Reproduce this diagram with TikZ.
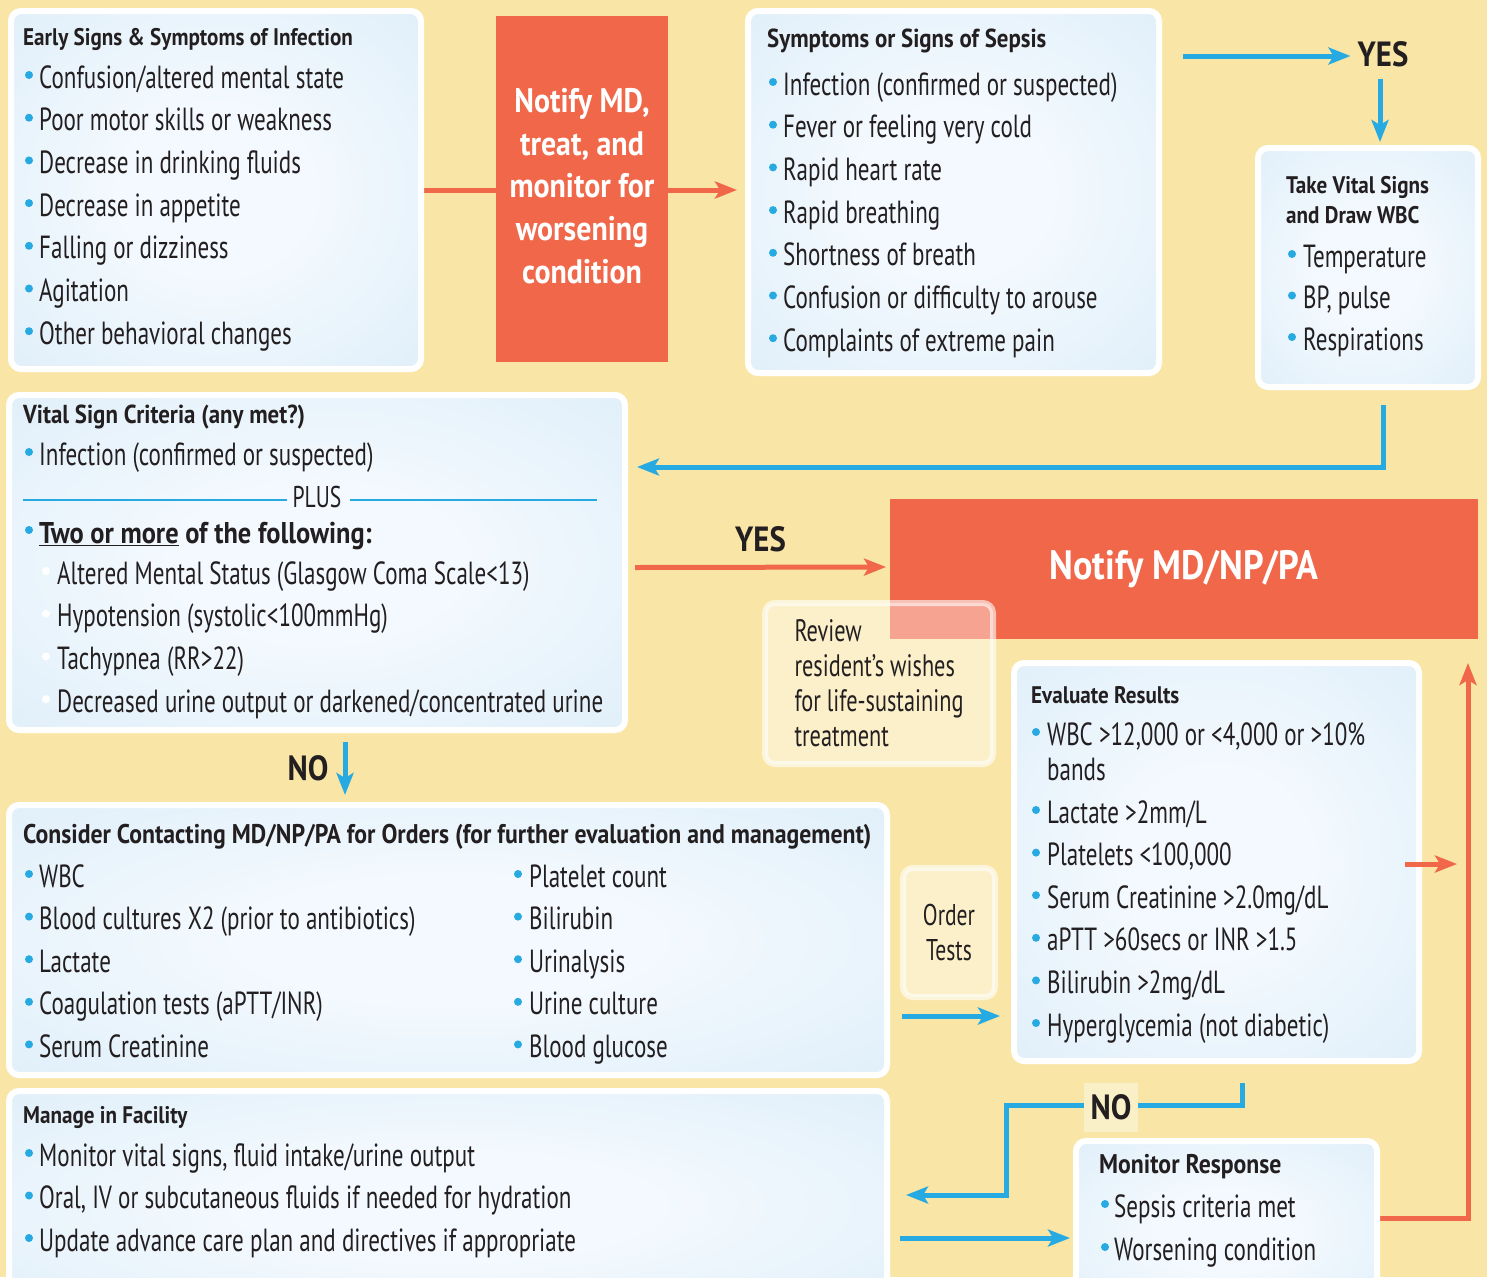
\documentclass[tikz,border=0pt]{standalone}
\usepackage{fontspec}
\setmainfont{PT Sans}[FakeStretch=0.72, BoldFeatures={FakeStretch=0.88}]
\usepackage{tikz}
\usetikzlibrary{positioning, arrows.meta, calc}

\definecolor{pagebg}{HTML}{F9E6A7}
\definecolor{alarm}{HTML}{F0674A}
\definecolor{flow}{HTML}{27AAE1}
\definecolor{ink}{HTML}{231F20}
\definecolor{boxin}{HTML}{F3F9FE}
\definecolor{boxout}{HTML}{CFE6F6}
\definecolor{notefill}{HTML}{FAF0C8}

\pgfdeclareradialshading{boxglow}{\pgfpoint{0bp}{0bp}}{color(0bp)=(boxin); color(12bp)=(boxin); color(58bp)=(boxout); color(100bp)=(boxout)}

\pgfdeclarelayer{back}
\pgfdeclarelayer{links}
\pgfsetlayers{back,links,main}

\tikzset{
  box/.style={draw=white, line width=6pt, rounded corners=10pt, shade, shading=boxglow,
    outer sep=3pt, inner sep=0pt, anchor=north west},
  note/.style={draw=white, draw opacity=0.6, fill=white, fill opacity=0.4, text opacity=1,
    line width=6pt, rounded corners=10pt, outer sep=3pt, anchor=north west, text=ink,
    font=\fontsize{31}{35}\selectfont},
  redbox/.style={fill=alarm, outer sep=0pt, inner sep=0pt, anchor=north west, text=white},
  ttl/.style={anchor=base west, inner sep=0pt, text=ink, font=\bfseries\fontsize{24}{28}\selectfont},
  itm/.style={anchor=base west, inner sep=0pt, text=ink, font=\fontsize{32}{35}\selectfont},
  answer/.style={inner sep=0pt, text=ink, font=\bfseries\fontsize{35}{40}\selectfont},
  flowline/.style={draw=flow, line width=5pt},
  flowarrow/.style={flowline, -{Stealth[length=22pt, width=17pt, inset=5pt]}},
  alarmline/.style={draw=alarm, line width=5pt},
  alarmarrow/.style={alarmline, -{Stealth[length=22pt, width=17pt, inset=5pt]}}
}

\begin{document}
\begin{tikzpicture}[x=1pt, y=-1pt]
\useasboundingbox (0,0) rectangle (1487,1277);
\clip (0,0) rectangle (1487,1277);
\begin{pgfonlayer}{back}
  \fill[pagebg] (0,0) rectangle (1487,1277);
\end{pgfonlayer}

% boxes
\node[box, minimum width=410pt, minimum height=358pt] (early) at (8,8) {};
\node[redbox, minimum width=172pt, minimum height=346pt] (notify1) at (496,16) {};
\node[align=center, text=white, inner sep=0pt, font=\bfseries\fontsize{34}{42.8}\selectfont]
  (notify1-t) at ($(notify1.center)+(0,-3)$)
  {Notify MD,\\treat, and\\monitor for\\worsening\\condition};
\node[box, minimum width=411pt, minimum height=362pt] (sepsis) at (745,8) {};
\node[box, minimum width=220pt, minimum height=239pt] (vitals) at (1255,145) {};
\node[box, minimum width=616pt, minimum height=335pt] (criteria) at (6,392) {};
\node[redbox, minimum width=588pt, minimum height=140pt,
  font=\bfseries\fontsize{41}{48}\selectfont] (notify2) at (890,499) {Notify MD/NP/PA};
\node[note, minimum width=228pt, minimum height=161pt, align=left] (review) at (762,600)
  {Review\\resident’s wishes\\for life-sustaining\\treatment};
\node[box, minimum width=405pt, minimum height=398pt] (evaluate) at (1011,660) {};
\node[box, minimum width=878pt, minimum height=270pt] (consider) at (6,802) {};
\node[note, minimum width=92pt, minimum height=129pt, align=center,
  font=\fontsize{30}{35}\selectfont] (order) at (900,865) {Order\\Tests};
\node[box, minimum width=878pt, minimum height=230pt] (manage) at (6,1088) {};
\node[box, minimum width=301pt, minimum height=180pt] (monitor) at (1073,1138) {};

% texts
\node[ttl] (early-t) at (23,45) {Early Signs \& Symptoms of Infection};
\foreach \t [count=\i from 0] in {Confusion/altered mental state, Poor motor skills or weakness,
    Decrease in drinking fluids, Decrease in appetite, Falling or dizziness, Agitation,
    Other behavioral changes}{
  \fill[flow] (29,75+42.7*\i) circle (4pt);
  \node[itm] (early-\i) at (39,88+42.7*\i) {\t};
}

\node[ttl, font=\bfseries\fontsize{26}{28}\selectfont] (sepsis-t) at (767,47) {Symptoms or Signs of Sepsis};
\foreach \t [count=\i from 0] in {Infection (confirmed or suspected), Fever or feeling very cold,
    Rapid heart rate, Rapid breathing, Shortness of breath, Confusion or difficulty to arouse,
    Complaints of extreme pain}{
  \fill[flow] (773,82+42.7*\i) circle (4pt);
  \node[itm] (sepsis-\i) at (783,95+42.7*\i) {\t};
}

\node[ttl] (vitals-t1) at (1286,193) {Take Vital Signs};
\node[ttl] (vitals-t2) at (1286,223) {and Draw WBC};
\foreach \t [count=\i from 0] in {Temperature, {BP, pulse}, Respirations}{
  \fill[flow] (1292,254+41.5*\i) circle (4pt);
  \node[itm] (vitals-\i) at (1303,267+41.5*\i) {\t};
}

\node[ttl, font=\bfseries\fontsize{26}{28}\selectfont] (criteria-t) at (23,423) {Vital Sign Criteria (any met?)};
\fill[flow] (29,452) circle (4pt);
\node[itm] (criteria-a) at (39,465) {Infection (confirmed or suspected)};
\node[itm, anchor=base, font=\fontsize{30}{32}\selectfont] (plus) at (317,507) {PLUS};
\draw[flow, line width=1.5pt] (23,500) -- (287,500) (350,500) -- (597,500);
\fill[flow] (29,530) circle (4pt);
\node[itm, font=\bfseries\fontsize{30}{35}\selectfont] (criteria-b) at (39,543)
  {\underline{Two or more} of the following:};
\foreach \t [count=\i from 0] in {Altered Mental Status (Glasgow Coma Scale<13),
    Hypotension (systolic<100mmHg), Tachypnea (RR>22),
    Decreased urine output or darkened/concentrated urine}{
  \fill[white] (46,571+42.7*\i) circle (4pt);
  \node[itm] (criteria-\i) at (57,584+42.7*\i) {\t};
}

\node[ttl] (evaluate-t) at (1031,703) {Evaluate Results};
\fill[flow] (1036,732) circle (4pt);
\node[itm] (evaluate-a) at (1047,745) {WBC >12,000 or <4,000 or >10\%};
\node[itm] (evaluate-b) at (1047,780) {bands};
\foreach \t [count=\i from 0] in {Lactate >2mm/L, {Platelets <100,000}, Serum Creatinine >2.0mg/dL,
    aPTT >60secs or INR >1.5, Bilirubin >2mg/dL, Hyperglycemia (not diabetic)}{
  \fill[flow] (1036,810+42.6*\i) circle (4pt);
  \node[itm] (evaluate-\i) at (1047,823+42.6*\i) {\t};
}

\node[ttl, font=\bfseries\fontsize{27}{28}\selectfont] (consider-t) at (23,843)
  {Consider Contacting MD/NP/PA for Orders (for further evaluation and management)};
\foreach \t [count=\i from 0] in {WBC, Blood cultures X2 (prior to antibiotics), Lactate,
    Coagulation tests (aPTT/INR), Serum Creatinine}{
  \fill[flow] (29,874+42.6*\i) circle (4pt);
  \node[itm] (consider-l\i) at (39,887+42.6*\i) {\t};
}
\foreach \t [count=\i from 0] in {Platelet count, Bilirubin, Urinalysis, Urine culture, Blood glucose}{
  \fill[flow] (518,874+42.6*\i) circle (4pt);
  \node[itm] (consider-r\i) at (529,887+42.6*\i) {\t};
}

\node[ttl] (manage-t) at (23,1123) {Manage in Facility};
\foreach \t [count=\i from 0] in {{Monitor vital signs, fluid intake/urine output},
    {Oral, IV or subcutaneous fluids if needed for hydration},
    Update advance care plan and directives if appropriate}{
  \fill[flow] (29,1153+42.5*\i) circle (4pt);
  \node[itm] (manage-\i) at (39,1166+42.5*\i) {\t};
}

\node[ttl, font=\bfseries\fontsize{27}{28}\selectfont] (monitor-t) at (1099,1173) {Monitor Response};
\foreach \t [count=\i from 0] in {Sepsis criteria met, Worsening condition}{
  \fill[flow] (1105,1204+43*\i) circle (4pt);
  \node[itm] (monitor-\i) at (1114,1217+43*\i) {\t};
}

% answers
\node[answer] (yes1) at (1383,54) {YES};
\node[answer, fill=notefill, minimum width=54pt, minimum height=49pt] (no2) at (1111,1107) {NO};

% connectors
\begin{pgfonlayer}{links}
\draw[alarmarrow, shorten >=8pt] (early.east) -- (early.east -| sepsis.west);
\draw[flowarrow] ($(sepsis.north east)+(21,48)$) -- ($(yes1.west)+(-7,2)$);
\draw[flowarrow] ($(yes1.south)+(-3,12)$) -- ($(vitals.north)+(12,-3)$);
\draw[flowarrow] ($(vitals.south)+(15,15)$) |- ($(criteria.north east)+(9,75)$);
\draw[alarmarrow] ($(criteria.east)+(7,5)$) -- ($(notify2.west)+(-4,-2)$)
  node[answer, midway, above=13pt] (yes2) {YES};
\draw[flowarrow] ($(criteria.south)+(28,9)$) -- ($(consider.north)+(-103,-7)$)
  node[answer, midway, left=14pt] (no1) {NO};
\draw[flowarrow] ($(order.south west)+(2,16)$) -- ($(order.south east)+(2,16)$);
\draw[alarmarrow] ($(monitor.north east)+(0,80)$) -| ($(notify2.south east)+(-10,24)$);
\draw[flowarrow] ($(evaluate.south)+(26,19)$) -- ++(0,22) -| ($(manage.north east)+(116,107)$)
  -- ($(manage.north east)+(16,107)$);
\draw[flowarrow] ($(manage.north east)+(10,150)$) -- ($(monitor.north west)+(-3,100)$);
\end{pgfonlayer}
\draw[alarmarrow] ($(evaluate.east)+(-17,2)$) -- ++(52,0);
\end{tikzpicture}
\end{document}
